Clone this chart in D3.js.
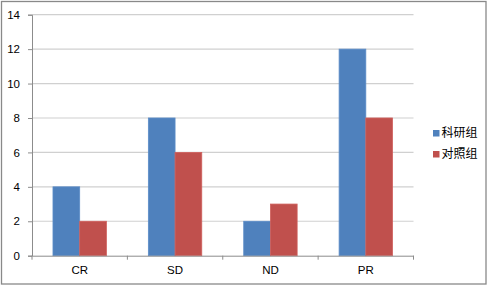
<!DOCTYPE html>
<html>
<head>
<meta charset="utf-8">
<script src="https://cdn.jsdelivr.net/npm/d3@7"></script>
<style>
  body { margin: 0; background: #fff; }
  text { font-family: "Liberation Sans", Arial, sans-serif; }
</style>
</head>
<body>
<div id="chart"></div>
<script>
// Data
const categories = ["CR", "SD", "ND", "PR"];
const seriesNames = ["科研组", "对照组"];
const researchValues = [4, 8, 2, 12];
const controlValues = [2, 6, 3, 8];
const yTicks = [0, 2, 4, 6, 8, 10, 12, 14];

const colors = ["#4F81BD", "#C0504D"];
const strokes = ["#5B8CC8", "#D0605D"];

const W = 491, H = 287;
const plot = { left: 32, right: 413.5, top: 14.7, bottom: 255.7 };

const svg = d3.select("#chart")
    .append("svg")
    .attr("width", W)
    .attr("height", H);

// outer chart border
svg.append("rect")
    .attr("x", 1.5).attr("y", 1.5)
    .attr("width", 484.5).attr("height", 282.5)
    .attr("fill", "#fff")
    .attr("stroke", "#898989")
    .attr("stroke-width", 1.3);

const x0 = d3.scaleBand()
    .domain(categories)
    .range([plot.left, plot.right])
    .padding(0);

const gap = x0.bandwidth() * 0.22;
const x1 = d3.scaleBand()
    .domain(seriesNames)
    .range([gap, x0.bandwidth() - gap])
    .padding(0);

const y = d3.scaleLinear()
    .domain([0, 14])
    .range([plot.bottom, plot.top]);

// gridlines
svg.append("g")
    .selectAll("line")
    .data(yTicks.slice(1))
    .enter()
    .append("line")
    .attr("x1", plot.left)
    .attr("x2", plot.right)
    .attr("y1", d => y(d))
    .attr("y2", d => y(d))
    .attr("stroke", "#d0d0d0")
    .attr("stroke-width", 1.2);

// Y axis
const yAxis = svg.append("g")
    .attr("transform", `translate(${plot.left},0)`)
    .call(d3.axisLeft(y).tickValues(yTicks).tickSize(4).tickPadding(8).tickFormat(d3.format("d")));
yAxis.select(".domain").attr("stroke", "#8c8c8c");
yAxis.selectAll(".tick line").attr("stroke", "#8c8c8c");
yAxis.selectAll("text")
    .attr("fill", "#000")
    .style("font-size", "11.5px");

// bars
const data = categories.map((c, i) => ({ cat: c, vals: [researchValues[i], controlValues[i]] }));

const groups = svg.append("g")
    .selectAll("g")
    .data(data)
    .enter()
    .append("g")
    .attr("transform", d => `translate(${x0(d.cat)},0)`);

groups.selectAll("rect")
    .data(d => d.vals.map((v, j) => ({ name: seriesNames[j], value: v, j: j })))
    .enter()
    .append("rect")
    .attr("x", d => x1(d.name))
    .attr("y", d => y(d.value))
    .attr("width", x1.bandwidth())
    .attr("height", d => y(0) - y(d.value))
    .attr("fill", d => colors[d.j])
    .attr("stroke", d => strokes[d.j])
    .attr("stroke-width", 0.8);

// X axis
const xAxis = svg.append("g")
    .attr("transform", `translate(0,${plot.bottom})`)
    .call(d3.axisBottom(x0).tickSize(0).tickPadding(10));
xAxis.select(".domain").attr("stroke", "#8c8c8c");
xAxis.selectAll("text")
    .attr("fill", "#000")
    .style("font-size", "11.5px");

// category boundary ticks
svg.append("g")
    .selectAll("line")
    .data(categories.concat(["end"]))
    .enter()
    .append("line")
    .attr("x1", (d, i) => plot.left + i * x0.step())
    .attr("x2", (d, i) => plot.left + i * x0.step())
    .attr("y1", plot.bottom)
    .attr("y2", plot.bottom + 4)
    .attr("stroke", "#8c8c8c");

// Legend
const legend = svg.append("g")
    .selectAll("g")
    .data(seriesNames)
    .enter()
    .append("g")
    .attr("transform", (d, i) => `translate(433,${133 + i * 21})`);

legend.append("rect")
    .attr("x", 0)
    .attr("y", -3)
    .attr("width", 6.5)
    .attr("height", 6.5)
    .attr("fill", (d, i) => colors[i]);

legend.append("text")
    .attr("x", 8.5)
    .attr("y", 0)
    .attr("dy", "0.36em")
    .style("font-family", "'Noto Sans CJK SC', sans-serif")
    .style("font-size", "12px")
    .text(d => d);
</script>
</body>
</html>
